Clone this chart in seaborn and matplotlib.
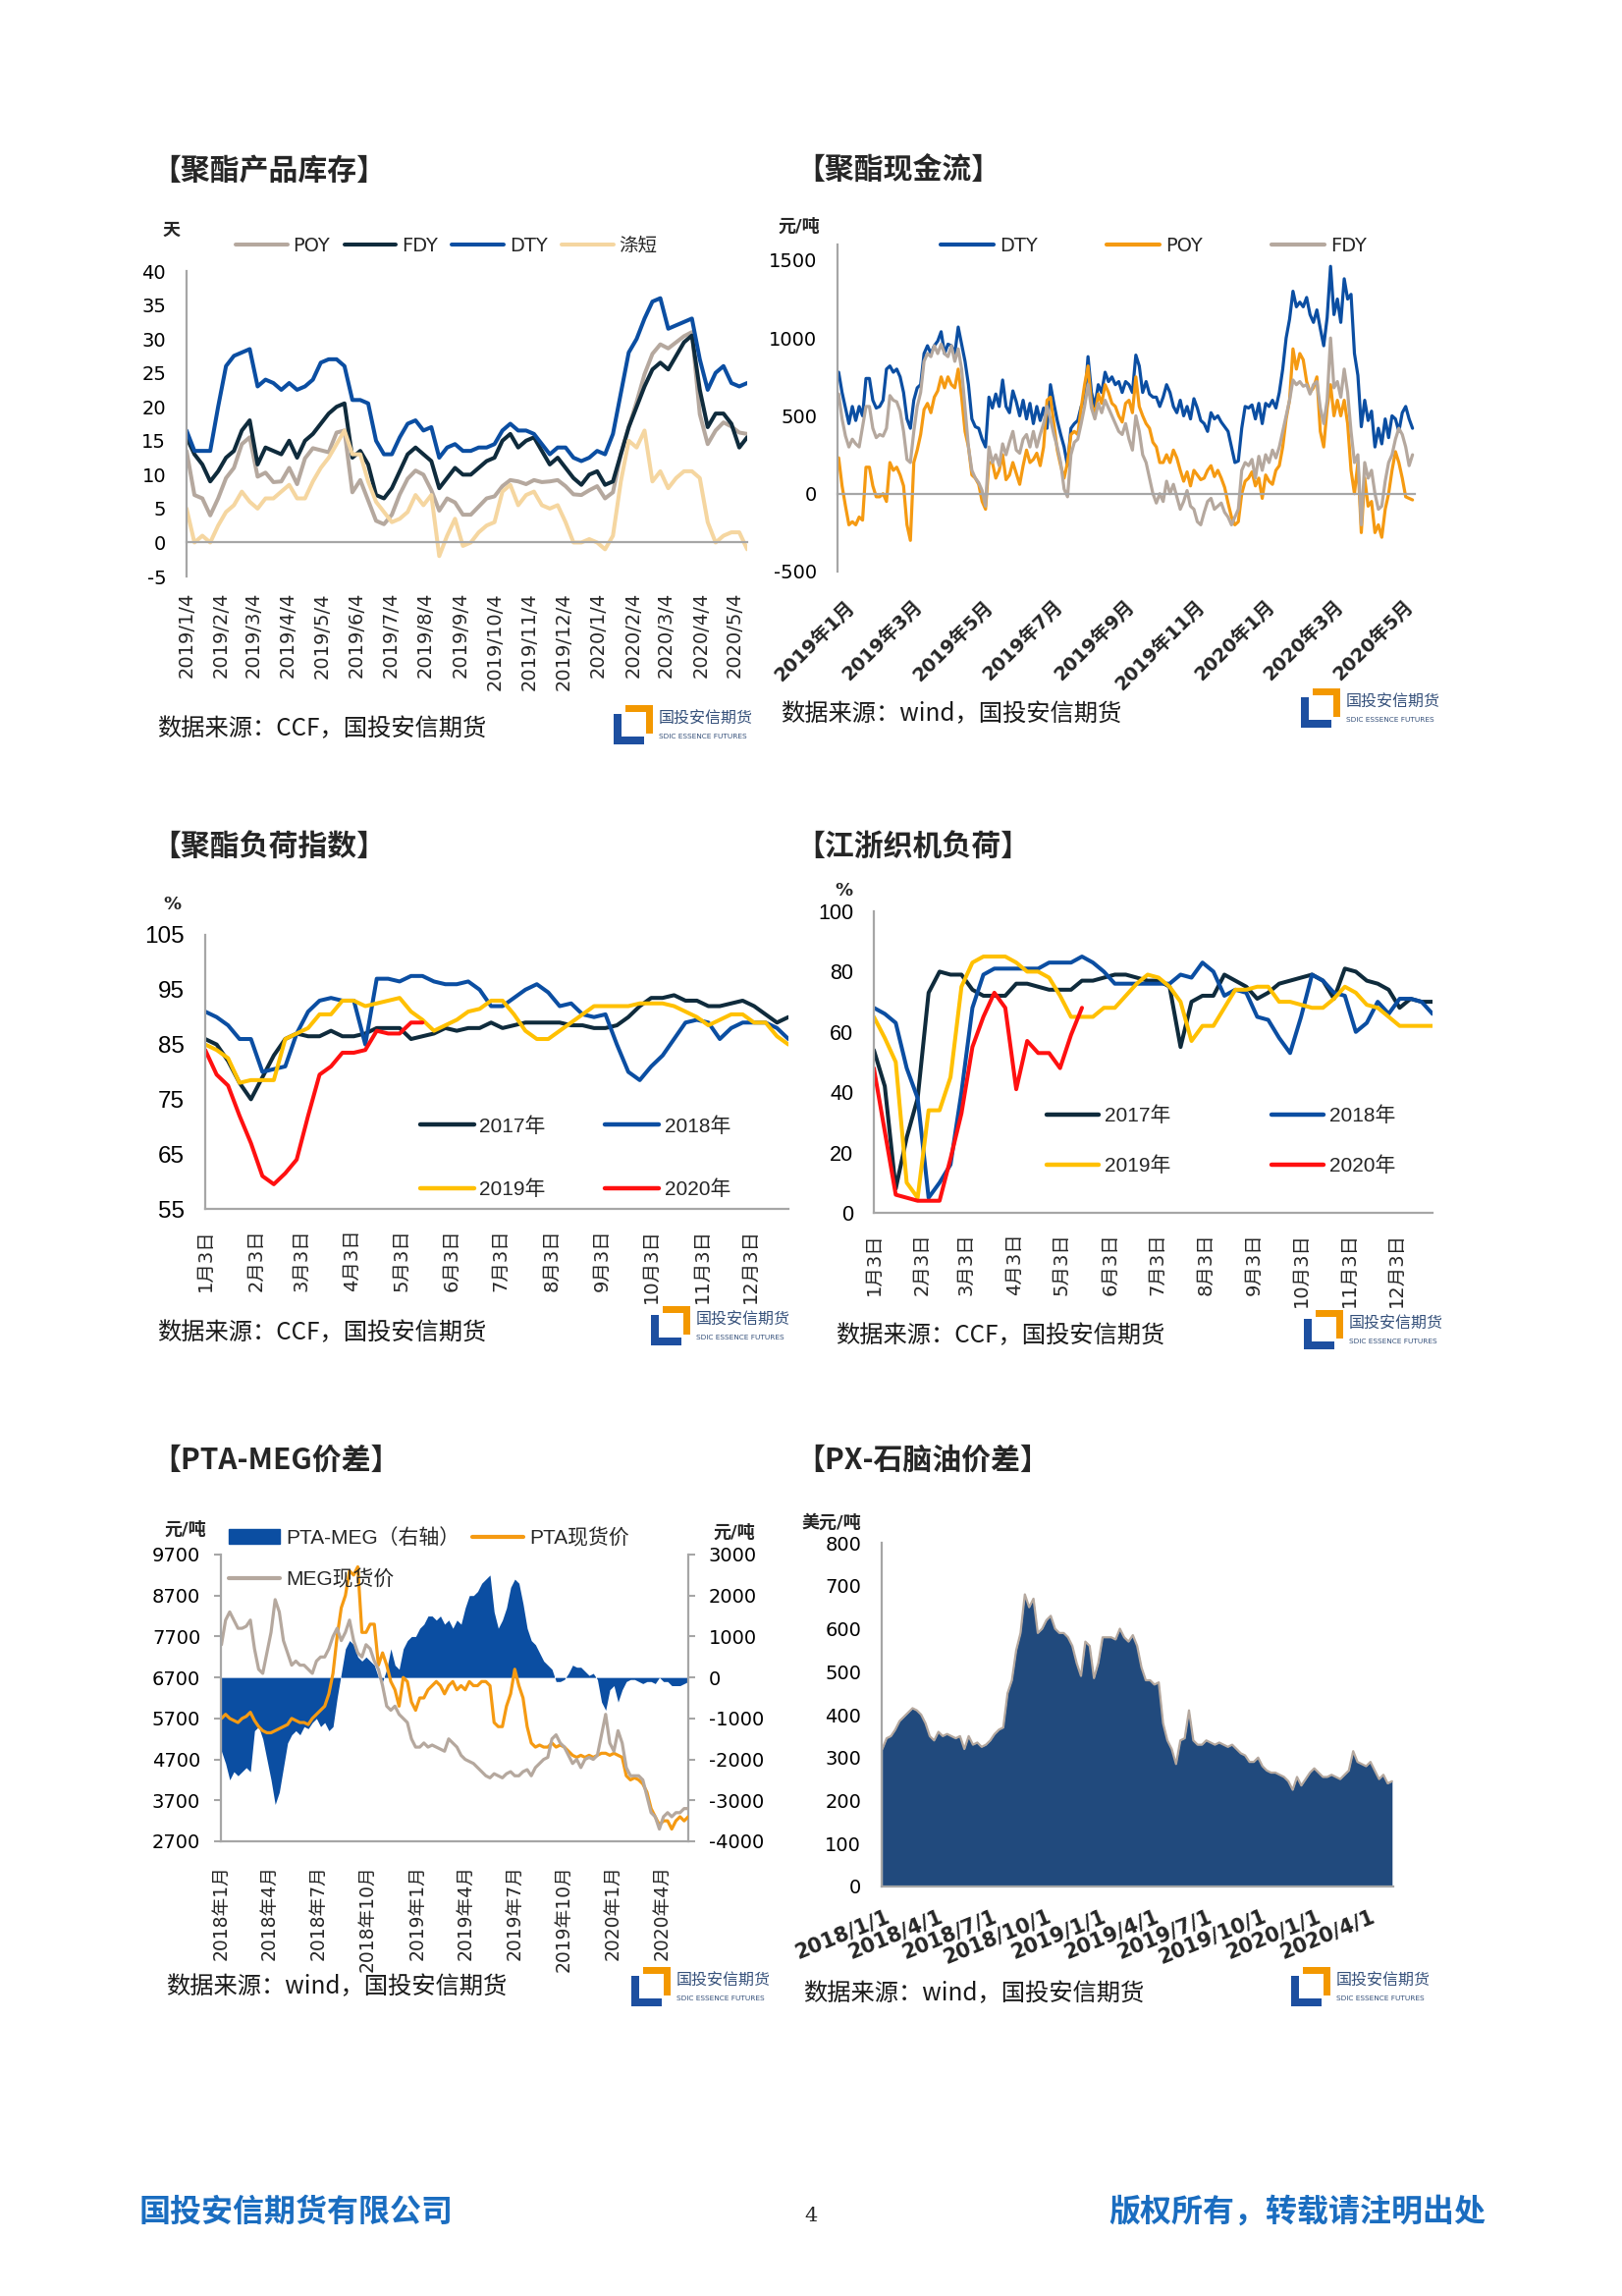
import numpy as np
import pandas as pd
import matplotlib
matplotlib.use("Agg")
import matplotlib.pyplot as plt
import matplotlib.dates as mdates
import matplotlib.transforms as mtransforms
from matplotlib.lines import Line2D
from matplotlib.patches import Patch, Polygon
from matplotlib import font_manager
import seaborn as sns

sns.set_style("white")
plt.rcParams["font.family"] = ["DejaVu Sans", "Noto Sans CJK SC"]
plt.rcParams["axes.unicode_minus"] = False

_names = {f.name for f in font_manager.fontManager.ttflist}
ARIAL = "Liberation Sans" if "Liberation Sans" in _names else "DejaVu Sans"
CJK = "Noto Sans CJK SC"

# ---------------- data ----------------
# 聚酯产品库存 (天), weekly from 2019/1/4
inv_poy = [13.5, 7, 6.5, 4, 6.5, 9.5, 11, 14.5, 15.5, 9.7,
           10.3, 8.9, 9, 11, 8.6, 12.4, 13.9, 13.6, 13.3, 16.2,
           16.5, 7.4, 9.2, 6.2, 3.2, 2.7, 4.1, 7.1, 9.4, 10.6,
           10, 7.7, 4.7, 6.5, 5.9, 4.1, 4.1, 5.3, 6.5, 6.8,
           8.3, 9.2, 9, 8.6, 9.2, 8.9, 9, 9.2, 8.3, 7.1,
           7, 7.7, 8.3, 6.5, 7.4, 13, 17, 20.7, 24.8, 27.8,
           29.2, 28.6, 29.5, 30.4, 31, 18.9, 14.5, 16.5, 17.7, 17.1,
           16.2, 16]
inv_fdy = [15.5, 13, 11.5, 9, 10.5, 12.5, 13.5, 16.5, 18, 11.5,
           14, 13.5, 13, 15, 12.5, 15, 16, 17.5, 19, 20,
           20.5, 12.5, 13.5, 11.5, 7, 6.5, 8, 10.5, 13, 14,
           13, 12, 8, 9.5, 11, 10, 10, 11, 12, 12.5,
           15, 16, 14, 15, 15.5, 13.5, 11.5, 12.5, 11, 9.5,
           8.5, 10, 10.5, 8.5, 9, 13, 17, 20, 23, 25.5,
           26.5, 25.5, 27.5, 29.5, 30.5, 22.5, 17, 19, 19, 17.5,
           14, 15.5]
inv_dty = [16.5, 13.5, 13.5, 13.5, 20, 26, 27.5, 28, 28.5, 23,
           24, 23.5, 22.5, 23.5, 22.5, 23, 24, 26.5, 27, 27,
           26, 21, 21, 20.5, 15, 13, 13, 15.5, 17.5, 18,
           16.5, 17, 12.5, 14, 14.5, 13.5, 13.5, 14, 14, 14.5,
           16.5, 17.5, 16.5, 16.5, 16, 14.5, 13, 14, 14, 12.5,
           12, 12.5, 13.5, 13, 16, 22, 28, 30, 33, 35.5,
           36, 31.5, 32, 32.5, 33, 27, 22.5, 25, 26, 23.5,
           23, 23.5]
inv_psf = [5, 0, 1, 0, 2.5, 4.5, 5.5, 7.5, 6, 5,
           6.5, 6.5, 7.5, 8.5, 6.5, 6.5, 9, 11, 12.5, 14.5,
           16.5, 13, 13, 9, 6, 4.5, 3, 3.5, 4.5, 7,
           5.5, 7, -2, 1, 3.5, -0.5, 0, 1.5, 2.5, 3,
           7.5, 8.5, 5.5, 7, 7.5, 5.5, 5, 5.5, 3, 0,
           0, 0.5, 0, -1, 1, 9, 15, 14, 16.5, 9,
           10.5, 8, 9.5, 10.5, 10.5, 9.5, 3, 0, 1, 1.5,
           1.5, -1]
inv_names = ["POY", "FDY", "DTY", "涤短"]
inv_ticks = ["2019/1/4", "2019/2/4", "2019/3/4", "2019/4/4", "2019/5/4", "2019/6/4",
             "2019/7/4", "2019/8/4", "2019/9/4", "2019/10/4", "2019/11/4", "2019/12/4",
             "2020/1/4", "2020/2/4", "2020/3/4", "2020/4/4", "2020/5/4"]

# 聚酯现金流 (元/吨), 2019/1/2 - 2020/5/15
cf_dty = [780, 650, 550, 450, 560, 470, 560, 500, 740, 740,
          600, 550, 560, 600, 800, 820, 780, 800, 750, 650,
          480, 420, 600, 680, 700, 900, 950, 900, 950, 980,
          1040, 900, 960, 950, 900, 1070, 960, 850, 700, 480,
          430, 420, 350, 300, 620, 550, 640, 560, 730, 560,
          520, 660, 590, 500, 600, 480, 580, 450, 560, 470,
          550, 420, 700, 580, 470, 380, 300, 180, 420, 450,
          470, 560, 600, 880, 650, 560, 700, 650, 780, 720,
          750, 700, 720, 650, 720, 700, 650, 890, 820, 650,
          720, 640, 620, 620, 560, 620, 700, 650, 560, 520,
          600, 500, 560, 480, 610, 550, 470, 450, 400, 520,
          480, 500, 460, 430, 400, 300, 200, 210, 420, 560,
          550, 570, 480, 580, 450, 580, 560, 600, 550, 650,
          800, 1000, 1120, 1300, 1200, 1230, 1200, 1260, 1150, 1100,
          1180, 1060, 950, 1130, 1460, 1150, 1250, 1100, 1380, 1250,
          1280, 900, 760, 430, 600, 470, 530, 300, 420, 320,
          480, 360, 500, 480, 400, 520, 560, 480, 420]
cf_poy = [230, 50, -80, -200, -180, -200, -150, -170, 170, 170,
          50, -20, -20, 0, -50, 200, 150, 170, 120, 50,
          -200, -300, 200, 280, 380, 540, 580, 520, 620, 660,
          750, 680, 750, 700, 680, 800, 620, 400, 300, 120,
          100, 60, -50, -100, 200, 200, 100, 150, 250, 90,
          120, 200, 130, 60, 180, 280, 200, 220, 260, 180,
          300, 600, 620, 450, 280, 180, 100, 200, 380, 400,
          380, 550, 700, 820, 580, 500, 640, 580, 700, 650,
          580, 560, 500, 460, 580, 600, 520, 750, 560, 500,
          450, 420, 330, 300, 200, 200, 250, 200, 280, 230,
          150, 80, 140, 50, 150, 120, 90, 100, 150, 180,
          110, 150, 100, 40, -60, -150, -200, -180, 0, 80,
          100, 140, 50, 100, -30, 120, 80, 60, 150, 180,
          300, 480, 600, 930, 800, 900, 860, 720, 650, 680,
          750, 400, 300, 550, 700, 500, 600, 500, 600, 450,
          150, 0, 200, -250, 100, -80, -50, -250, -200, -280,
          -100, 0, 150, 270, 200, 100, -20, -30, -40]
cf_fdy = [640, 480, 370, 300, 350, 320, 300, 430, 560, 560,
          420, 360, 380, 370, 420, 630, 600, 590, 530, 400,
          220, 200, 400, 560, 650, 850, 900, 880, 950, 900,
          960, 900, 880, 950, 850, 930, 800, 550, 300, 150,
          100, 70, 20, -80, 300, 200, 250, 180, 320, 250,
          330, 400, 280, 260, 350, 380, 300, 400, 300, 380,
          450, 560, 480, 380, 300, 200, 30, -20, 250, 330,
          350, 450, 560, 700, 550, 480, 580, 520, 600, 550,
          500, 450, 400, 380, 450, 350, 280, 500, 400, 250,
          200, 100, 0, -60, 0, -50, 80, 0, 60, -20,
          -100, -50, 20, -80, -100, -180, -200, -120, -50, -30,
          -100, -80, -60, -120, -150, -200, -150, -100, 150, 200,
          180, 220, 100, 240, 150, 250, 200, 280, 230, 300,
          400, 500, 600, 730, 700, 720, 690, 700, 640, 700,
          720, 550, 450, 600, 1000, 680, 720, 620, 800, 650,
          400, 200, 250, -200, 200, 100, 150, 0, -100, -80,
          80, 200, 250, 350, 420, 380, 300, 180, 250]
cf_names = ["DTY", "POY", "FDY"]
cf_tick_dates = ["2019-01-01", "2019-03-01", "2019-05-01", "2019-07-01", "2019-09-01",
                 "2019-11-01", "2020-01-01", "2020-03-01", "2020-05-01"]
cf_ticks = ["2019年1月", "2019年3月", "2019年5月", "2019年7月", "2019年9月",
            "2019年11月", "2020年1月", "2020年3月", "2020年5月"]

# 聚酯负荷指数 (%), weekly
pl_2017 = [86, 85, 82, 78, 75, 79, 83, 86, 87, 86.5,
           86.5, 87.5, 86.5, 86.5, 87, 88, 88, 88, 86, 86.5,
           87, 88, 87.5, 88, 88, 89, 88, 88.5, 89, 89,
           89, 89, 88.5, 88.5, 88, 88, 88.5, 90, 92, 93.5,
           93.5, 94, 93, 93, 92, 92, 92.5, 93, 92, 90.5,
           89, 90]
pl_2018 = [91, 90, 88.5, 86, 86, 80, 80.5, 81, 87, 91,
           93, 93.5, 93, 93, 85, 97, 97, 96.5, 97.5, 97.5,
           96.5, 96, 96, 96.5, 95, 92, 92, 93.5, 95, 96,
           94.5, 92, 92.5, 90.5, 90, 90.5, 85, 80, 78.5, 81,
           83, 86, 89, 89.5, 89, 86, 88, 89, 89, 89,
           88, 86]
pl_2019 = [85, 84, 82.5, 78, 78.5, 78.5, 78.5, 86, 87, 88,
           90.5, 90.5, 93, 93, 92, 92.5, 93, 93.5, 91, 89.5,
           87.5, 88.5, 89.5, 91, 91.5, 93, 93, 90.5, 87.5, 86,
           86, 87.5, 89, 90.5, 92, 92, 92, 92, 92.5, 92.5,
           92.5, 92, 91, 90, 88.5, 89.5, 90.5, 90.5, 89, 89,
           86.5, 85]
pl_2020 = [84, 79.5, 77.5, 72, 67, 61, 59.5, 61.5, 64, 72,
           79.5, 81, 83.5, 83.5, 84, 87.5, 87, 87, 89, 89]

# 江浙织机负荷 (%), weekly
lm_2017 = [54, 42, 8, 25, 38, 73, 80, 79, 79, 74,
           72, 72, 72, 76, 76, 75, 74, 74, 74, 77,
           77, 78, 79, 79, 78, 77, 77, 75, 55, 70,
           72, 72, 79, 77, 75, 71, 73, 76, 77, 78,
           79, 77, 71, 81, 80, 77, 76, 74, 68, 71,
           70, 70]
lm_2018 = [68, 66, 63, 48, 38, 5, 10, 16, 40, 68,
           79, 81, 81, 81, 81, 81, 83, 83, 83, 85,
           83, 80, 76, 76, 76, 76, 76, 76, 79, 78,
           83, 80, 72, 74, 73, 65, 64, 58, 53, 65,
           79, 77, 73, 72, 60, 63, 70, 66, 71, 71,
           70, 66]
lm_2019 = [65, 58, 50, 10, 5, 34, 34, 45, 75, 83,
           85, 85, 85, 83, 80, 80, 78, 72, 65, 65,
           65, 68, 68, 72, 76, 79, 78, 75, 70, 57,
           62, 62, 68, 74, 74, 75, 75, 70, 70, 69,
           68, 68, 71, 75, 73, 69, 68, 65, 62, 62,
           62, 62]
lm_2020 = [48, 27, 6, 5, 4, 4, 4, 18, 33, 55,
           65, 73, 68, 41, 57, 53, 53, 48, 59, 68]
year_names = ["2017年", "2018年", "2019年", "2020年"]
md_tick_dates = ["2017-%02d-03" % m for m in range(1, 13)]
md_ticks = ["1月3日", "2月3日", "3月3日", "4月3日", "5月3日", "6月3日",
            "7月3日", "8月3日", "9月3日", "10月3日", "11月3日", "12月3日"]

# PTA-MEG价差 (元/吨), 2018/1/2 - 2020/5/20
pm_spread = [-1800, -2100, -2500, -2300, -2400, -2300, -2200, -2300, -1300, -1200,
             -1500, -2000, -2500, -3100, -2800, -2200, -1600, -1400, -1300, -1400,
             -1200, -1250, -1100, -1000, -1200, -1100, -1300, -1200, -500, 100,
             700, 900, 800, 500, 400, 500, 400, 300, 0, -100,
             200, 700, 300, 200, 700, 900, 1000, 1000, 1200, 1300,
             1500, 1500, 1400, 1500, 1300, 1400, 1200, 1400, 1300, 1700,
             2000, 2000, 2100, 2300, 2400, 2500, 1600, 1200, 1400, 1700,
             2200, 2400, 2300, 1800, 1200, 900, 800, 600, 400, 300,
             200, -100, -100, -50, 100, 300, 250, 250, 150, 50,
             100, -50, -600, -800, -300, -200, -600, -300, -100, -50,
             -50, -100, -150, -100, -100, -150, 0, -100, -100, -200,
             -200, -200, -150, -100]
pm_pta = [5700, 5800, 5700, 5650, 5600, 5700, 5750, 5850, 5650, 5500,
          5400, 5350, 5350, 5400, 5450, 5500, 5550, 5700, 5650, 5600,
          5600, 5550, 5700, 5800, 5900, 6000, 6300, 6800, 7700, 8400,
          8700, 9300, 9200, 9400, 7800, 7800, 8000, 8000, 7000, 7300,
          7000, 6600, 6400, 6000, 6700, 6600, 6100, 5900, 6200, 6200,
          6400, 6500, 6600, 6500, 6300, 6500, 6600, 6400, 6500, 6400,
          6600, 6500, 6500, 6600, 6600, 6500, 5600, 5500, 5500, 6000,
          6300, 6900, 6500, 6200, 5500, 5100, 5000, 5050, 5000, 5000,
          5100, 5000, 5050, 5000, 4900, 4800, 4750, 4800, 4750, 4800,
          4750, 4800, 4850, 4850, 4800, 4850, 4800, 4750, 4300, 4200,
          4250, 4200, 4100, 3900, 3500, 3300, 3100, 3200, 3200, 3000,
          3200, 3300, 3200, 3300]
pm_meg = [7500, 8100, 8300, 8100, 7900, 7900, 7950, 8100, 7400, 6900,
          6800, 7300, 7800, 8600, 8300, 7600, 7300, 7000, 7100, 7000,
          7000, 6900, 6800, 7100, 7200, 7200, 7400, 7700, 7900, 7600,
          7800, 8100, 7600, 7300, 7200, 7500, 7400, 7100, 6900, 6500,
          6000, 5900, 6000, 5800, 5700, 5600, 5200, 5000, 5000, 5100,
          5000, 5050, 5000, 4950, 4900, 5200, 5100, 5000, 4800, 4700,
          4650, 4600, 4500, 4400, 4300, 4250, 4350, 4300, 4250, 4350,
          4400, 4300, 4300, 4400, 4450, 4300, 4500, 4600, 4700, 4750,
          5200, 5300, 5100, 5000, 4800, 4600, 4700, 4500, 4700, 4750,
          4700, 4800, 5300, 5800, 5100, 4900, 5400, 5100, 4500, 4300,
          4300, 4300, 4200, 3800, 3400, 3300, 3000, 3300, 3400, 3300,
          3400, 3400, 3500, 3500]
pm_names = ["PTA-MEG（右轴）", "MEG现货价", "PTA现货价"]
q_tick_dates = ["2018-01-01", "2018-04-01", "2018-07-01", "2018-10-01", "2019-01-01",
                "2019-04-01", "2019-07-01", "2019-10-01", "2020-01-01", "2020-04-01"]
pm_ticks = ["2018年1月", "2018年4月", "2018年7月", "2018年10月", "2019年1月",
            "2019年4月", "2019年7月", "2019年10月", "2020年1月", "2020年4月"]

# PX-石脑油价差 (美元/吨), 2018/1/2 - 2020/5/15
px_spread = [320, 345, 350, 365, 385, 395, 405, 415, 410, 400,
             380, 350, 340, 360, 350, 355, 350, 345, 350, 320,
             350, 330, 335, 325, 330, 340, 355, 365, 370, 450,
             480, 550, 590, 680, 650, 670, 590, 600, 620, 630,
             600, 590, 590, 580, 560, 520, 490, 570, 560, 485,
             520, 580, 580, 580, 575, 600, 580, 570, 585, 560,
             510, 480, 480, 470, 475, 380, 340, 320, 285, 340,
             345, 410, 340, 330, 330, 340, 335, 330, 335, 330,
             325, 330, 320, 310, 305, 290, 290, 300, 280, 270,
             265, 265, 260, 255, 245, 225, 255, 235, 250, 265,
             275, 265, 255, 255, 260, 255, 250, 260, 270, 315,
             290, 285, 280, 290, 270, 250, 260, 240, 245]
px_ticks = ["2018/1/1", "2018/4/1", "2018/7/1", "2018/10/1", "2019/1/1",
            "2019/4/1", "2019/7/1", "2019/10/1", "2020/1/1", "2020/4/1"]

# ---------------- colours ----------------
GRAY = "#A6A6A6"
C_BLUE = "#0B4EA2"
C_NAVY = "#0F2B3C"
C_BEIGE = "#B5A89E"
C_TAN = "#F5D6A0"
C_ORANGE = "#F59A12"
C_YELLOW = "#FFC000"
C_RED = "#FF1010"
C_AREA = "#214A7D"
C_FOOT = "#1A6DC0"

W, H = 1652, 2338
fig = plt.figure(figsize=(W / 100, H / 100), dpi=100)
fig.patch.set_facecolor("white")


def px_axes(x0, y0, x1, y1):
    return fig.add_axes([x0 / W, 1 - y1 / H, (x1 - x0) / W, (y1 - y0) / H])


def px_text(x, y, s, **kw):
    fig.text(x / W, 1 - y / H, s, **kw)


def style(ax):
    for s in ["top", "right"]:
        ax.spines[s].set_visible(False)
    for s in ["left", "bottom"]:
        ax.spines[s].set_color(GRAY)
        ax.spines[s].set_linewidth(1.6)
    ax.tick_params(axis="both", colors=GRAY, length=5, width=1.5, direction="out", pad=10)
    ax.tick_params(axis="both", labelcolor="black")
    ax.set_xlabel("")
    ax.set_ylabel("")


def xlabels(ax, dates, labels, dy, rot, fs, ha="center", va="top", dx=0,
            weight="normal", mode="default"):
    base = mtransforms.blended_transform_factory(ax.transData, ax.transAxes)
    tr = mtransforms.offset_copy(base, fig=fig, x=dx, y=-dy, units="dots")
    for d, lab in zip(dates, labels):
        ax.text(mdates.date2num(pd.Timestamp(d)), 0, lab, transform=tr, rotation=rot,
                ha=ha, va=va, fontsize=fs, fontweight=weight, rotation_mode=mode)


def title(x, y, s):
    px_text(x, y, s, fontsize=21.5, fontweight="bold", family=[CJK], va="center")


def source(x, y, s):
    px_text(x, y, s, fontsize=17.5, family=[CJK], va="center", color="#1a1a1a")


def unit(x, y, s):
    px_text(x, y, s, fontsize=13, fontweight="bold", family=["DejaVu Sans", CJK],
            ha="center", va="center")


def logo(x0, y0):
    lax = fig.add_axes([x0 / W, 1 - (y0 + 40) / H, 140 / W, 40 / H])
    lax.set_xlim(0, 140)
    lax.set_ylim(40, 0)
    lax.axis("off")
    lax.add_patch(Polygon([[12, 0], [40, 0], [40, 29], [33, 29], [33, 7], [12, 7]],
                          closed=True, color="#F39800", lw=0))
    lax.add_patch(Polygon([[0, 9], [8, 9], [8, 32], [31, 32], [31, 40], [0, 40]],
                          closed=True, color="#1D4FA0", lw=0))
    lax.text(46, 14, "国投安信期货", fontsize=11.5, color="#35507A", va="center", family=[CJK])
    lax.text(46, 32, "SDIC ESSENCE FUTURES", fontsize=5.3, color="#35507A", va="center")


def legend(ax, handles, labels, x, y, ncol, fs, hl, tp, cs, ls=0.5, family=None):
    prop = {"size": fs}
    if family:
        prop["family"] = family
    ax.legend(handles, labels, loc="center left", bbox_to_anchor=(x / W, 1 - y / H),
              bbox_transform=fig.transFigure, ncol=ncol, frameon=False, prop=prop,
              handlelength=hl, handletextpad=tp, columnspacing=cs, labelspacing=ls,
              borderpad=0, borderaxespad=0)


# ---------------- 1 聚酯产品库存 ----------------
title(154, 174, "【聚酯产品库存】")
unit(175, 235, "天")
ax1 = px_axes(190, 276, 761, 587)
d1 = pd.date_range("2019-01-04", periods=len(inv_dty), freq="7D")
cols1 = [C_BEIGE, C_NAVY, C_BLUE, C_TAN]
for vals, c in zip([inv_poy, inv_fdy, inv_dty, inv_psf], cols1):
    sns.lineplot(x=d1, y=vals, ax=ax1, color=c, linewidth=2.9)
style(ax1)
ax1.set_xlim(d1[0], d1[-1])
ax1.set_ylim(-5, 40)
ax1.set_yticks(range(-5, 41, 5))
ax1.spines["bottom"].set_position(("data", 0))
t1 = pd.to_datetime(inv_ticks, format="%Y/%m/%d")
ax1.set_xticks(mdates.date2num(t1))
ax1.tick_params(axis="x", labelbottom=False)
ax1.tick_params(axis="y", labelsize=14)
xlabels(ax1, t1, inv_ticks, 16, 90, 14)
legend(ax1, [Line2D([], [], color=c, lw=2.9) for c in cols1], inv_names,
       240, 250, 4, 14, 2.7, 0.3, 0.75)
source(160, 742, "数据来源：CCF，国投安信期货")
logo(625, 718)

# ---------------- 2 聚酯现金流 ----------------
title(810, 174, "【聚酯现金流】")
unit(814, 231, "元/吨")
ax2 = px_axes(853, 249, 1441, 582)
d2 = pd.date_range("2019-01-02", "2020-05-15", periods=len(cf_dty))
cols2 = [C_BLUE, C_ORANGE, C_BEIGE]
for vals, c in zip([cf_dty, cf_poy, cf_fdy], cols2):
    sns.lineplot(x=d2, y=vals, ax=ax2, color=c, linewidth=2.3)
style(ax2)
ax2.set_xlim(pd.Timestamp("2019-01-01"), pd.Timestamp("2020-05-17"))
ax2.set_ylim(-500, 1600)
ax2.set_yticks([-500, 0, 500, 1000, 1500])
ax2.spines["bottom"].set_position(("data", 0))
ax2.set_xticks(mdates.date2num(pd.to_datetime(cf_tick_dates)))
ax2.tick_params(axis="x", labelbottom=False)
ax2.tick_params(axis="y", labelsize=14)
xlabels(ax2, cf_tick_dates, cf_ticks, 26, 45, 14, ha="right", va="top", dx=8,
        weight="bold", mode="anchor")
legend(ax2, [Line2D([], [], color=c, lw=3) for c in cols2], cf_names,
       958, 250, 3, 14, 2.8, 0.3, 3.6)
source(795, 727, "数据来源：wind，国投安信期货")
logo(1325, 701)

# ---------------- 3 聚酯负荷指数 / 4 江浙织机负荷 ----------------
cols_y = [C_NAVY, C_BLUE, C_YELLOW, C_RED]
dw = pd.date_range("2017-01-03", periods=52, freq="7D")


def seasonal(ax, series, ylim, yticks, ysize):
    for vals, c in zip(series, cols_y):
        sns.lineplot(x=dw[:len(vals)], y=vals, ax=ax, color=c, linewidth=2.9)
    style(ax)
    ax.set_xlim(dw[0], dw[-1])
    ax.set_ylim(*ylim)
    ax.set_yticks(yticks)
    ax.set_xticks(mdates.date2num(pd.to_datetime(md_tick_dates)))
    ax.tick_params(axis="x", labelbottom=False)
    ax.tick_params(axis="y", labelsize=ysize)
    for lab in ax.get_yticklabels():
        lab.set_family(ARIAL)
    xlabels(ax, md_tick_dates, md_ticks, 20, 90, 14)


def year_handles():
    hs = [Line2D([], [], color=c, lw=3.2) for c in cols_y]
    # column-wise fill: 2017, 2019 | 2018, 2020
    return [hs[0], hs[2], hs[1], hs[3]], [year_names[0], year_names[2], year_names[1], year_names[3]]


title(154, 862, "【聚酯负荷指数】")
unit(175, 921, "%")
ax3 = px_axes(209, 952, 803, 1231)
seasonal(ax3, [pl_2017, pl_2018, pl_2019, pl_2020], (55, 105), range(55, 106, 10), 17.5)
hh, ll = year_handles()
legend(ax3, hh, ll, 428, 1179, 2, 15, 2.65, 0.25, 2.9, ls=2.15, family=[ARIAL, CJK])
source(160, 1357, "数据来源：CCF，国投安信期货")
logo(663, 1330)

title(810, 862, "【江浙织机负荷】")
unit(859, 907, "%")
ax4 = px_axes(890, 928, 1459, 1235)
seasonal(ax4, [lm_2017, lm_2018, lm_2019, lm_2020], (0, 100), range(0, 101, 20), 15.5)
legend(ax4, hh, ll, 1066, 1162, 2, 15, 2.55, 0.3, 4.9, ls=1.5, family=[ARIAL, CJK])
source(851, 1360, "数据来源：CCF，国投安信期货")
logo(1328, 1334)

# ---------------- 5 PTA-MEG价差 ----------------
title(154, 1487, "【PTA-MEG价差】")
unit(189, 1558, "元/吨")
unit(748, 1561, "元/吨")
ax5 = px_axes(225, 1583, 701, 1875)
d5 = pd.date_range("2018-01-02", "2020-05-20", periods=len(pm_spread))
sns.lineplot(x=d5, y=pm_pta, ax=ax5, color=C_ORANGE, linewidth=2.3)
sns.lineplot(x=d5, y=pm_meg, ax=ax5, color=C_BEIGE, linewidth=2.3)
ax5r = ax5.twinx()
ax5r.fill_between(d5, pm_spread, 0, color=C_BLUE, lw=0)
ax5.set_zorder(ax5r.get_zorder() + 1)
ax5.patch.set_visible(False)
style(ax5)
ax5.set_xlim(pd.Timestamp("2018-01-01"), pd.Timestamp("2020-05-20"))
ax5.set_ylim(2700, 9700)
ax5.set_yticks(range(2700, 9701, 1000))
ax5.set_xticks(mdates.date2num(pd.to_datetime(q_tick_dates)))
ax5.tick_params(axis="x", labelbottom=False)
ax5.tick_params(axis="y", labelsize=14)
for s in ["left", "top", "bottom"]:
    ax5r.spines[s].set_visible(False)
ax5r.spines["right"].set_color(GRAY)
ax5r.spines["right"].set_linewidth(1.6)
ax5r.set_ylim(-4000, 3000)
ax5r.set_yticks(range(-4000, 3001, 1000))
ax5r.tick_params(axis="y", colors=GRAY, length=5, width=1.5, labelcolor="black",
                 labelsize=14, pad=10)
ax5r.set_ylabel("")
xlabels(ax5, q_tick_dates, pm_ticks, 24, 90, 13.5)
legend(ax5, [Patch(color=C_BLUE), Line2D([], [], color=C_BEIGE, lw=3),
             Line2D([], [], color=C_ORANGE, lw=3)], pm_names,
       233, 1587, 2, 15, 2.5, 0.3, 0.6, ls=1.05, family=[ARIAL, CJK])
source(169, 2023, "数据来源：wind，国投安信期货")
logo(643, 2003)

# ---------------- 6 PX-石脑油价差 ----------------
title(810, 1487, "【PX-石脑油价差】")
unit(847, 1551, "美元/吨")
ax6 = px_axes(898, 1571, 1419, 1921)
d6 = pd.date_range("2018-01-02", "2020-05-15", periods=len(px_spread))
sns.lineplot(x=d6, y=px_spread, ax=ax6, color=C_BEIGE, linewidth=1.6)
ax6.fill_between(d6, px_spread, 0, color=C_AREA, lw=0, zorder=1)
style(ax6)
ax6.set_xlim(pd.Timestamp("2018-01-01"), pd.Timestamp("2020-05-17"))
ax6.set_ylim(0, 800)
ax6.set_yticks(range(0, 801, 100))
ax6.set_xticks(mdates.date2num(pd.to_datetime(q_tick_dates)))
ax6.tick_params(axis="x", labelbottom=False)
ax6.tick_params(axis="y", labelsize=14)
xlabels(ax6, q_tick_dates, px_ticks, 20, 22, 15, ha="right", va="top", dx=4,
        weight="bold", mode="anchor")
source(818, 2030, "数据来源：wind，国投安信期货")
logo(1315, 2003)

# ---------------- footer ----------------
px_text(142, 2253, "国投安信期货有限公司", fontsize=23, fontweight="bold", family=[CJK],
        color=C_FOOT, va="center")
px_text(1513, 2253, "版权所有，转载请注明出处", fontsize=23, fontweight="bold", family=[CJK],
        color=C_FOOT, va="center", ha="right")
px_text(826, 2256, "4", fontsize=15, family=["DejaVu Serif"], va="center", ha="center")

fig.savefig("out.png", dpi=100, facecolor="white")
